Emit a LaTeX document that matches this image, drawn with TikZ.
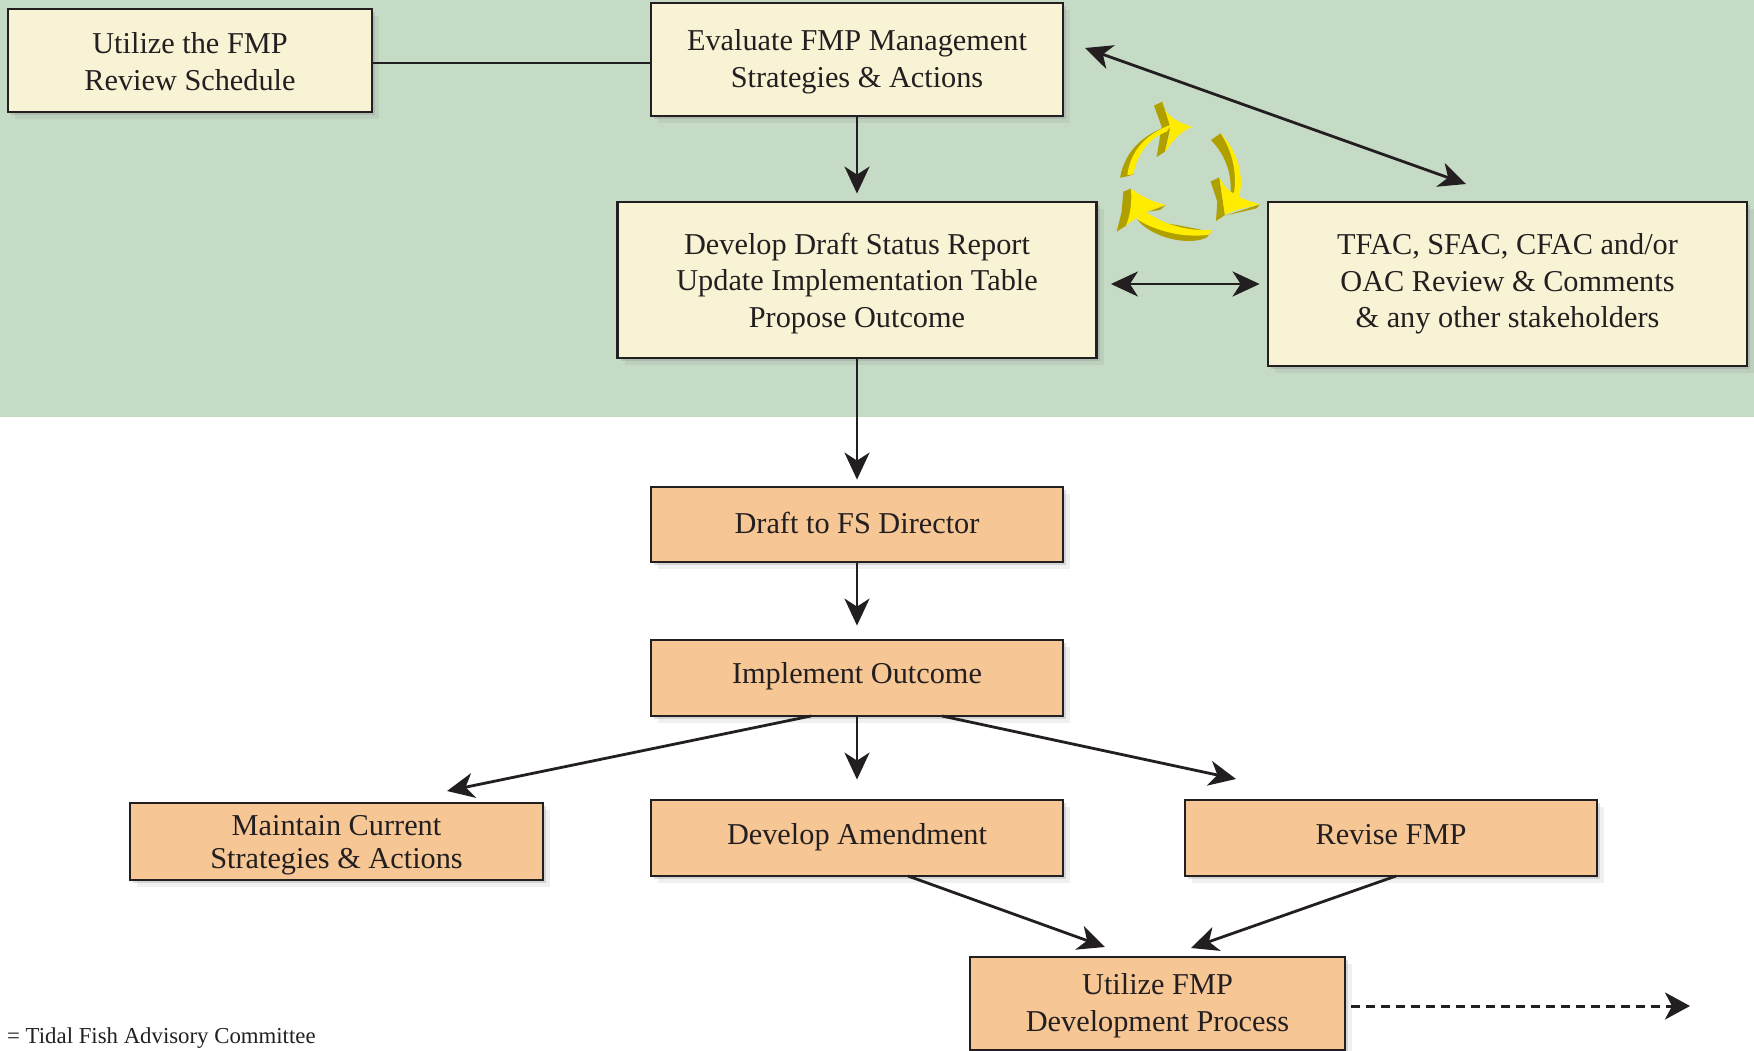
\documentclass[tikz,border=0pt]{standalone}
\usepackage{fontspec}
\setmainfont{Liberation Serif}
\usetikzlibrary{arrows.meta,shadows}
\definecolor{panelgreen}{HTML}{C5DBC6}
\definecolor{creamfill}{HTML}{F8F3D5}
\definecolor{orangefill}{HTML}{F6C695}
\definecolor{inkdark}{HTML}{231F20}
\definecolor{arrowyellow}{HTML}{FFEC00}
\definecolor{arrowshade}{HTML}{AFA000}
\begin{document}
\begin{tikzpicture}[x=1pt,y=-1pt,
	  cream node/.style={draw=inkdark,line width=2.8pt,fill=creamfill,inner sep=0pt,align=center,text=inkdark,
	    font=\fontsize{30.3}{36.4}\selectfont,
	    drop shadow={shadow xshift=7pt,shadow yshift=-7pt,opacity=0.12},
	    drop shadow={shadow xshift=3pt,shadow yshift=-3pt,opacity=0.25}},
	  orange node/.style={cream node,fill=orangefill},
	  text top/.style={execute at begin node={\rule{0pt}{#1}}},
	  text low/.style={execute at end node={\rule[-#1]{0pt}{0pt}}},
	  link/.style={draw=inkdark,line width=2.8pt},
	  flow/.style={link,-{Stealth[length=27pt,width=25pt,inset=8pt]}},
	  both/.style={link,{Stealth[length=27pt,width=25pt,inset=8pt]}-{Stealth[length=27pt,width=25pt,inset=8pt]}}]

	  \useasboundingbox (0,0) rectangle (1754,1051);
	  \clip (0,0) rectangle (1754,1051);
	  \fill[panelgreen] (0,0) rectangle (1754,417);

	  \node[cream node,text top=59.6pt,minimum width=364pt,minimum height=103pt] (schedule) at (190,60.5) {Utilize the FMP\\Review Schedule};
	  \node[cream node,text top=61.9pt,minimum width=412pt,minimum height=113pt] (evaluate) at (857,59.5) {Evaluate FMP Management\\Strategies \& Actions};
	  \node[cream node,text top=100.5pt,minimum width=479pt,minimum height=156pt] (status) at (857,280) {Develop Draft Status Report\\Update Implementation Table\\Propose Outcome};
	  \node[cream node,text top=93.6pt,minimum width=479pt,minimum height=164pt] (review) at (1507.5,284) {TFAC, SFAC, CFAC and/or\\OAC Review \& Comments\\\& any other stakeholders};
	  \node[orange node,text top=20.8pt,text low=3.6pt,minimum width=412pt,minimum height=75pt] (director) at (857,524.5) {Draft to FS Director};
	  \node[orange node,text low=10.4pt,minimum width=412pt,minimum height=76pt] (outcome) at (857,678) {Implement Outcome};
	  \node[orange node,text top=60pt,minimum width=413pt,minimum height=77pt] (maintain) at (336.5,841.5) {Maintain Current\\[-4pt]Strategies \& Actions};
	  \node[orange node,text low=8.4pt,minimum width=412pt,minimum height=76pt] (amend) at (857,838) {Develop Amendment};
	  \node[orange node,text low=6.2pt,minimum width=412pt,minimum height=76pt] (revise) at (1391,838) {Revise FMP};
	  \node[orange node,text top=61.9pt,minimum width=375pt,minimum height=93pt] (process) at (1157.5,1003.5) {Utilize FMP\\Development Process};
	  \node[anchor=base west,inner sep=0pt,text=inkdark,font=\fontsize{22.8}{27}\selectfont] (note) at (7,1043) {= Tidal Fish Advisory Committee};

	  % free ends of the slanted arrows
	  \coordinate (reviewtip) at (1466,184);
	  \coordinate (evaluatetip) at (1085,48);
	  \coordinate (outcomeL) at (811,716);
	  \coordinate (outcomeR) at (942,716);
	  \coordinate (maintaintip) at (447,791);
	  \coordinate (revisetip) at (1236,779);
	  \coordinate (amendout) at (908,876);
	  \coordinate (reviseout) at (1396,876);
	  \coordinate (processL) at (1105,947);
	  \coordinate (processR) at (1191,948);
	  \coordinate (dashtip) at (1690,1006);

	  \draw[link] ([yshift=-2.5pt]schedule.east) -- ([yshift=-2.5pt]schedule.east -| evaluate.west);
	  \draw[flow,shorten >=7pt] (evaluate) -- (status);
	  \draw[both] (evaluatetip) -- (reviewtip);
	  \draw[both,shorten <=13pt,shorten >=7pt] (status.east |- review.west) -- (review.west);
	  \draw[flow,shorten >=6pt] (status) -- (director);
	  \draw[flow,shorten >=13pt] (director) -- (outcome);
	  \draw[flow,shorten >=19pt] (outcome) -- (amend);
	  \draw[flow] (outcomeL) -- (maintaintip);
	  \draw[flow] (outcomeR) -- (revisetip);
	  \draw[flow] (amendout) -- (processL);
	  \draw[flow] (reviseout) -- (processR);
	  \draw[link,line width=3pt,dash pattern=on 9pt off 6pt,-{Stealth[length=25pt,width=27pt,inset=7pt]}] (process.east |- dashtip) ++(5,0) -- (dashtip);

	  % the three yellow arrows
	  \begin{scope}[shift={(1110,95)},x=0.3333pt,y=-0.3333pt]
	    \fill[arrowshade] (132,32) -- (157,20) -- (180,90) -- (178,110) -- (165,170) -- (140,186) -- (150,125) -- (155,95) -- cycle;
	    \fill[arrowshade] (30,248) .. controls (45,170) and (95,120) .. (180,90) -- (160,105) .. controls (100,130) and (75,180) .. (70,238) -- (55,243) -- cycle;
	    \fill[arrowyellow] (52,240) .. controls (60,175) and (100,120) .. (185,88) -- (170,110) .. controls (115,130) and (80,180) .. (70,238) -- cycle;
	    \fill[arrowyellow] (157,20) .. controls (162,50) and (180,75) .. (248,96) .. controls (215,105) and (190,135) .. (165,170) -- (180,110) -- (180,92) -- cycle;

	    \fill[arrowshade] (303,135) .. controls (345,180) and (365,230) .. (362,295) -- (378,290) .. controls (382,230) and (365,165) .. (332,115) -- cycle;
	    \fill[arrowyellow] (332,115) .. controls (385,170) and (405,250) .. (385,315) -- (372,295) .. controls (382,230) and (365,165) .. (332,115) -- cycle;
	    \fill[arrowshade] (302,260) -- (328,247) -- (345,360) -- (318,378) -- (322,320) -- cycle;
	    \fill[arrowshade] (450,328) -- (440,340) -- (345,362) -- cycle;
	    \fill[arrowyellow] (328,247) .. controls (345,280) and (365,305) .. (450,328) .. controls (400,340) and (370,345) .. (345,360) -- cycle;

	    \fill[arrowshade] (40,290) -- (63,281) -- (72,350) -- (48,392) -- (20,410) -- (35,350) -- cycle;
	    \fill[arrowshade] (168,330) -- (150,345) -- (115,350) -- cycle;
	    \fill[arrowshade] (80,372) .. controls (120,425) and (230,455) .. (290,428) -- (303,410) -- (200,390) -- cycle;
	    \fill[arrowyellow] (100,345) .. controls (150,385) and (230,410) .. (303,405) .. controls (305,412) and (300,420) .. (290,420) .. controls (220,428) and (140,410) .. (80,372) -- cycle;
	    \fill[arrowyellow] (63,281) .. controls (100,310) and (135,322) .. (168,330) .. controls (130,340) and (85,360) .. (48,392) .. controls (65,350) and (65,310) .. (63,281) -- cycle;
	  \end{scope}

	\end{tikzpicture}
\end{document}
